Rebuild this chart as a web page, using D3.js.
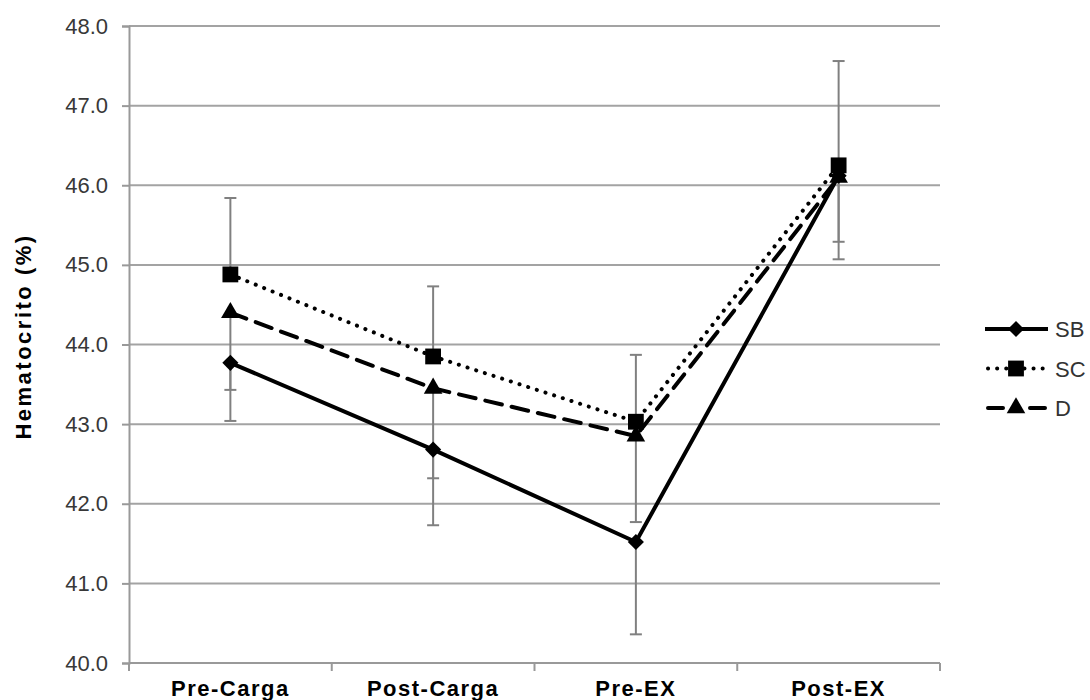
<!DOCTYPE html>
<html>
<head>
<meta charset="utf-8">
<script src="https://cdn.jsdelivr.net/npm/d3@7"></script>
<style>
  body { margin: 0; background: #fff; }
  svg { display: block; }
</style>
</head>
<body>
<svg id="chart" width="1090" height="700"></svg>
<script>
var categories = ["Pre-Carga", "Post-Carga", "Pre-EX", "Post-EX"]
var yTicks = [40, 41, 42, 43, 44, 45, 46, 47, 48]

// means
var sb = [43.77, 42.68, 41.52, 46.12]
var sc = [44.88, 43.85, 43.03, 46.25]
var dd = [44.40, 43.45, 42.85, 46.10]

// error (one-sided, as in the figure)
var sbErr = [0.73, 0.95, 1.16, 0.83]
var scErr = [0.96, 0.88, 0.84, 1.31]
var dErr  = [0.97, 1.13, 1.08, 1.03]

var series = [
  { name: "SB", values: sb, err: sbErr, dir: -1, symbol: d3.symbolSquare, size: 130, rot: 45, dash: null },
  { name: "SC", values: sc, err: scErr, dir: 1, symbol: d3.symbolSquare, size: 250, rot: 0, dash: "0.1 9" },
  { name: "D",  values: dd, err: dErr,  dir: -1, symbol: d3.symbolTriangle, size: 150, rot: 0, dash: "17 10" }
]

var margin = { left: 129, right: 150, top: 26, bottom: 37 }
var width = 1090, height = 700

var svg = d3.select('#chart')

var x = d3.scaleBand()
  .domain(categories)
  .range([margin.left, width - margin.right])

var y = d3.scaleLinear()
  .domain([40, 48])
  .range([height - margin.bottom, margin.top])

// gridlines
svg.append('g')
  .selectAll('line').data(yTicks.slice(1)).enter().append('line')
  .attr('x1', margin.left)
  .attr('x2', width - margin.right)
  .attr('y1', function (d) { return y(d) })
  .attr('y2', function (d) { return y(d) })
  .attr('stroke', '#a3a3a3')
  .attr('stroke-width', 2)

// y axis
var yAxis = svg.append('g')
  .attr('transform', 'translate(' + margin.left + ',0)')
  .call(d3.axisLeft(y).tickValues(yTicks).tickFormat(d3.format('.1f')).tickSize(7).tickPadding(14))
yAxis.select('.domain').attr('stroke', '#999').attr('stroke-width', 2)
yAxis.selectAll('.tick line').attr('stroke', '#999').attr('stroke-width', 2)
yAxis.selectAll('.tick text')
  .attr('fill', '#383838')
  .style('font-family', 'Liberation Sans, Arial, sans-serif')
  .style('font-size', '22px')

// x axis
var xAxis = svg.append('g')
  .attr('transform', 'translate(0,' + y(40) + ')')
var xEdges = d3.range(categories.length + 1).map(function (i) { return margin.left + i * x.step() })
xAxis.append('line')
  .attr('x1', margin.left).attr('x2', width - margin.right)
  .attr('stroke', '#999').attr('stroke-width', 2)
xAxis.selectAll('.xt').data(xEdges).enter().append('line')
  .attr('x1', function (d) { return d }).attr('x2', function (d) { return d })
  .attr('y1', 0).attr('y2', 8)
  .attr('stroke', '#999').attr('stroke-width', 2)
xAxis.selectAll('text').data(categories).enter().append('text')
  .attr('x', function (d) { return x(d) + x.bandwidth() / 2 })
  .attr('y', 33)
  .attr('text-anchor', 'middle')
  .style('font-family', 'Liberation Sans, Arial, sans-serif')
  .style('font-size', '22px')
  .style('font-weight', 'bold')
  .style('letter-spacing', '1.5px')
  .text(function (d) { return d })

// y title
svg.append('text')
  .attr('transform', 'translate(31,' + (margin.top + (height - margin.bottom - margin.top) / 2 - 8) + ') rotate(-90)')
  .attr('text-anchor', 'middle')
  .style('font-family', 'Liberation Sans, Arial, sans-serif')
  .style('font-size', '22px')
  .style('font-weight', 'bold')
  .style('letter-spacing', '2.5px')
  .text('Hematocrito (%)')

var cx = function (i) { return x(categories[i]) + x.bandwidth() / 2 }

// error bars
series.forEach(function (s) {
  var g = svg.append('g').attr('stroke', '#808080').attr('stroke-width', 2)
  s.values.forEach(function (v, i) {
    var end = v + s.dir * s.err[i]
    g.append('line')
      .attr('x1', cx(i)).attr('x2', cx(i))
      .attr('y1', y(v)).attr('y2', y(end))
    g.append('line')
      .attr('x1', cx(i) - 6).attr('x2', cx(i) + 6)
      .attr('y1', y(end)).attr('y2', y(end))
  })
})

var line = d3.line()
  .x(function (d, i) { return cx(i) })
  .y(function (d) { return y(d) })

// lines
series.forEach(function (s) {
  svg.append('path')
    .datum(s.values)
    .attr('d', line)
    .attr('fill', 'none')
    .attr('stroke', '#000')
    .attr('stroke-width', 4)
    .attr('stroke-linecap', s.dash ? 'round' : 'butt')
    .attr('stroke-dasharray', s.dash)
})

// markers
series.forEach(function (s) {
  svg.append('g').selectAll('path').data(s.values).enter().append('path')
    .attr('d', d3.symbol().type(s.symbol).size(s.size))
    .attr('transform', function (d, i) { return 'translate(' + cx(i) + ',' + y(d) + ') rotate(' + s.rot + ')' })
    .attr('fill', '#000')
})

// legend
var legend = svg.append('g').attr('transform', 'translate(985,329)')
var row = legend.selectAll('g').data(series).enter().append('g')
  .attr('transform', function (d, i) { return 'translate(0,' + i * 39.5 + ')' })
row.append('line')
  .attr('x1', function (d) { return d.dash ? 3 : 0 }).attr('x2', function (d) { return d.dash ? 60 : 63 })
  .attr('stroke', '#000').attr('stroke-width', 4)
  .attr('stroke-linecap', function (d) { return d.dash ? 'round' : 'butt' })
  .attr('stroke-dasharray', function (d) { return d.name === 'SC' ? '0.1 9' : (d.name === 'D' ? '15 27' : null) })
row.append('path')
  .attr('d', function (d) { return d3.symbol().type(d.symbol).size(d.size)() })
  .attr('transform', function (d) { return 'translate(31,0) rotate(' + d.rot + ')' })
  .attr('fill', '#000')
row.append('text')
  .attr('x', 70).attr('y', 8)
  .attr('fill', '#333')
  .style('font-family', 'Liberation Sans, Arial, sans-serif')
  .style('font-size', '22px')
  .text(function (d) { return d.name })
</script>
</body>
</html>
